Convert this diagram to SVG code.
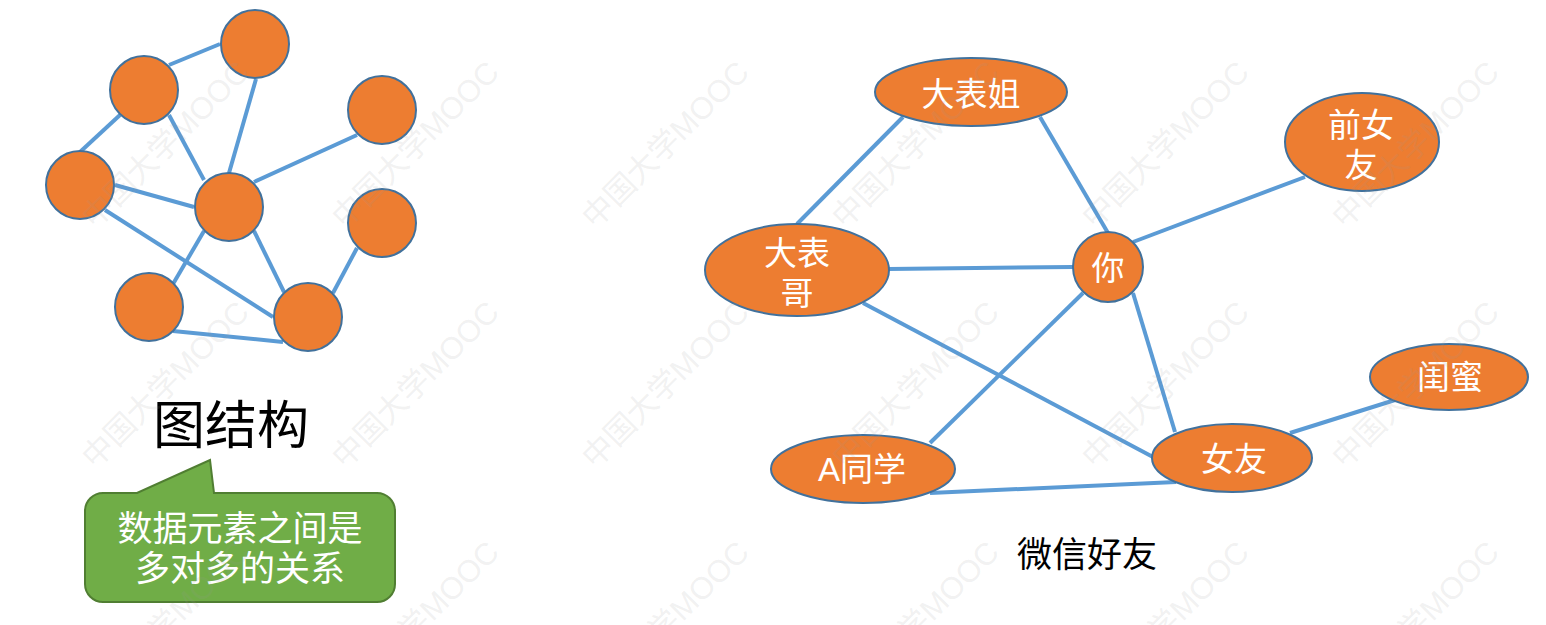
<svg xmlns="http://www.w3.org/2000/svg" width="1546" height="625" viewBox="0 0 1546 625">
<style>
.edge{stroke:#5B9BD5;stroke-width:4;stroke-linecap:butt;fill:none}
.node{fill:#ED7D31;stroke:#41719C;stroke-width:2}
.lbl{fill:#FFFFFF;font-family:"Liberation Sans","Noto Sans CJK SC",sans-serif;font-size:33px;text-anchor:middle}
.title{fill:#000000;font-family:"Noto Sans CJK SC",sans-serif;text-anchor:middle}
.wm{fill:#9a9a9a;fill-opacity:0.14;font-family:"Liberation Sans","Noto Sans CJK SC",sans-serif;font-size:31px}
</style>
<rect x="0" y="0" width="1546" height="625" fill="#FFFFFF"/>
<g id="connectors">
<line class="edge" x1="169" y1="65" x2="220" y2="44"/>
<line class="edge" x1="120" y1="115" x2="80" y2="152"/>
<line class="edge" x1="169" y1="115" x2="204" y2="180"/>
<line class="edge" x1="256" y1="79" x2="229" y2="173"/>
<line class="edge" x1="357" y1="135" x2="254" y2="182"/>
<line class="edge" x1="115" y1="185" x2="194" y2="207"/>
<line class="edge" x1="105" y1="210" x2="273" y2="317"/>
<line class="edge" x1="204" y1="231" x2="173" y2="284"/>
<line class="edge" x1="254" y1="231" x2="284" y2="292"/>
<line class="edge" x1="357" y1="248" x2="333" y2="293"/>
<line class="edge" x1="173" y1="331" x2="283" y2="342"/>
<line class="edge" x1="903" y1="117" x2="797" y2="224"/>
<line class="edge" x1="1040" y1="117" x2="1108" y2="233"/>
<line class="edge" x1="889" y1="269" x2="1073" y2="267"/>
<line class="edge" x1="1133" y1="242" x2="1305" y2="177"/>
<line class="edge" x1="863" y1="303" x2="1153" y2="457"/>
<line class="edge" x1="1083" y1="293" x2="930" y2="443"/>
<line class="edge" x1="1133" y1="293" x2="1175" y2="432"/>
<line class="edge" x1="1290" y1="433" x2="1395" y2="400"/>
<line class="edge" x1="930" y1="493" x2="1176" y2="482"/>
</g>
<g id="c1"><circle class="node" cx="255" cy="44" r="34"/></g>
<g id="c2"><circle class="node" cx="144" cy="90" r="34"/></g>
<g id="c3"><circle class="node" cx="382" cy="110" r="34"/></g>
<g id="c4"><circle class="node" cx="80" cy="185" r="34"/></g>
<g id="c5"><circle class="node" cx="229" cy="207" r="34"/></g>
<g id="c6"><circle class="node" cx="382" cy="223" r="34"/></g>
<g id="c7"><circle class="node" cx="149" cy="307" r="34"/></g>
<g id="c8"><circle class="node" cx="308" cy="317" r="34"/></g>
<g id="title-graph"><text class="title" x="231" y="444" font-size="52">图结构</text></g>
<g id="callout">
<path d="M 103 493 L 137 493 L 210 460 L 214 493 L 377 493 A 18 18 0 0 1 395 511 L 395 584 A 18 18 0 0 1 377 602 L 103 602 A 18 18 0 0 1 85 584 L 85 511 A 18 18 0 0 1 103 493 Z" fill="#70AD47" stroke="#507E32" stroke-width="2"/>
<text class="lbl" style="font-size:35px"><tspan x="240" y="541">数据元素之间是</tspan><tspan x="240" y="581">多对多的关系</tspan></text>
</g>
<g id="n-dabiaojie"><ellipse class="node" cx="971" cy="92" rx="96" ry="34"/><text class="lbl" x="971" y="106">大表姐</text></g>
<g id="n-dabiaoge"><ellipse class="node" cx="797" cy="270" rx="92" ry="46"/><text class="lbl"><tspan x="797" y="265">大表</tspan><tspan x="797" y="305">哥</tspan></text></g>
<g id="n-ni"><circle class="node" cx="1108" cy="267" r="35"/><text class="lbl" x="1108" y="280">你</text></g>
<g id="n-qiannvyou"><ellipse class="node" cx="1362" cy="142" rx="77" ry="49"/><text class="lbl"><tspan x="1361" y="137">前女</tspan><tspan x="1361" y="177">友</tspan></text></g>
<g id="n-guimi"><ellipse class="node" cx="1449" cy="377" rx="79" ry="33"/><text class="lbl" x="1450" y="389">闺蜜</text></g>
<g id="n-nvyou"><ellipse class="node" cx="1232" cy="458" rx="80" ry="34"/><text class="lbl" x="1234" y="471">女友</text></g>
<g id="n-atongxue"><ellipse class="node" cx="863" cy="469" rx="92" ry="34"/><text class="lbl" x="862" y="481">A同学</text></g>
<g id="title-wechat"><text class="title" x="1087" y="567" font-size="35">微信好友</text></g>
<g id="watermark">
<text class="wm" transform="translate(95 230) rotate(-45)">中国大学MOOC</text>
<text class="wm" transform="translate(345 230) rotate(-45)">中国大学MOOC</text>
<text class="wm" transform="translate(595 230) rotate(-45)">中国大学MOOC</text>
<text class="wm" transform="translate(845 230) rotate(-45)">中国大学MOOC</text>
<text class="wm" transform="translate(1095 230) rotate(-45)">中国大学MOOC</text>
<text class="wm" transform="translate(1345 230) rotate(-45)">中国大学MOOC</text>
<text class="wm" transform="translate(95 470) rotate(-45)">中国大学MOOC</text>
<text class="wm" transform="translate(345 470) rotate(-45)">中国大学MOOC</text>
<text class="wm" transform="translate(595 470) rotate(-45)">中国大学MOOC</text>
<text class="wm" transform="translate(845 470) rotate(-45)">中国大学MOOC</text>
<text class="wm" transform="translate(1095 470) rotate(-45)">中国大学MOOC</text>
<text class="wm" transform="translate(1345 470) rotate(-45)">中国大学MOOC</text>
<text class="wm" transform="translate(95 710) rotate(-45)">中国大学MOOC</text>
<text class="wm" transform="translate(345 710) rotate(-45)">中国大学MOOC</text>
<text class="wm" transform="translate(595 710) rotate(-45)">中国大学MOOC</text>
<text class="wm" transform="translate(845 710) rotate(-45)">中国大学MOOC</text>
<text class="wm" transform="translate(1095 710) rotate(-45)">中国大学MOOC</text>
<text class="wm" transform="translate(1345 710) rotate(-45)">中国大学MOOC</text>
</g>
</svg>
